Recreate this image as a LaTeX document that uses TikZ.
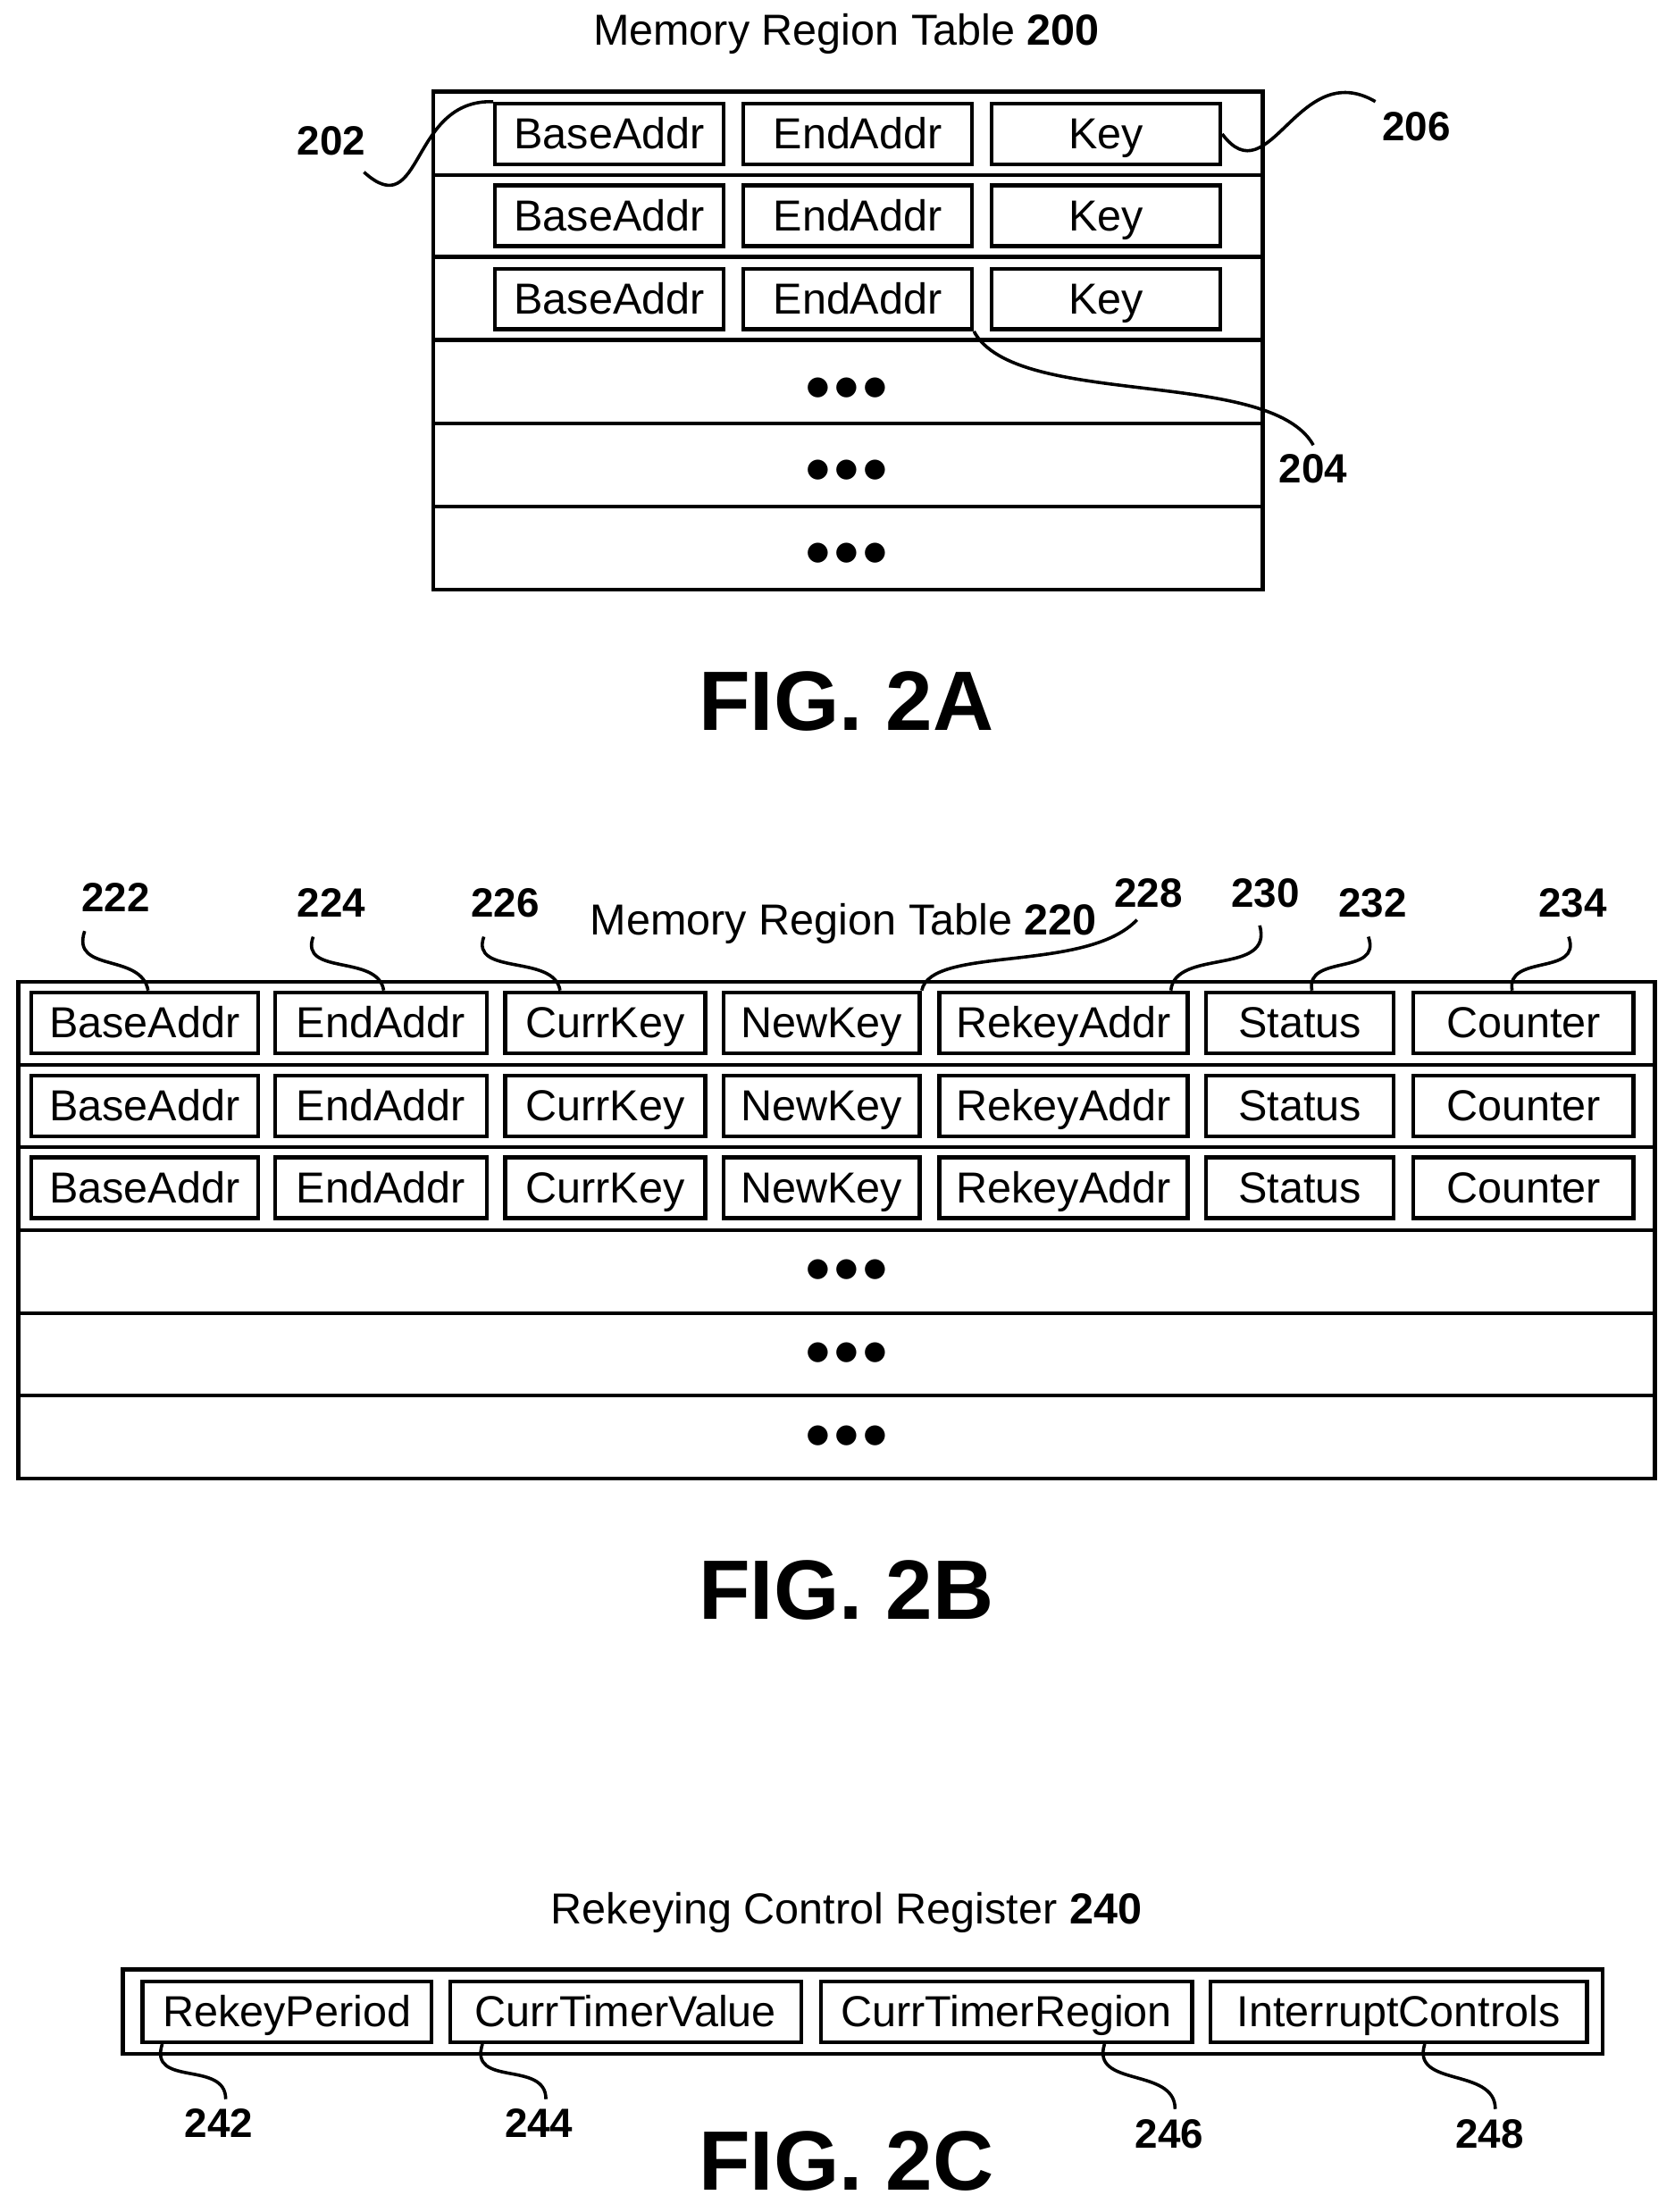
\documentclass[tikz,border=0pt]{standalone}
\usepackage{fontspec}
\setmainfont{Liberation Sans}
\usetikzlibrary{positioning}
\tikzset{
  cell/.style={draw, line width=1.6pt, inner sep=0pt, minimum height=0.86cm, text height=13.5pt, text depth=1.5pt, font=\fontsize{17.5}{20}\selectfont},
  frame/.style={draw, line width=1.6pt},
  ref/.style={font=\fontsize{16.5}{18}\selectfont\bfseries},
  title/.style={font=\fontsize{17.5}{20}\selectfont},
  fig/.style={font=\fontsize{34}{40}\selectfont\bfseries},
  lead/.style={line width=1.3pt},
  dots/.style={font=\fontsize{22}{24}\selectfont}
}
\newcommand{\dotrow}{$\bullet\!\bullet\!\bullet$}
\begin{document}
\begin{tikzpicture}[x=0.02cm,y=-0.02cm]
\useasboundingbox (0,0) rectangle (1187,1568);
% ---------- FIG. 2A
\node[title] (t200) at (600,24) {Memory Region Table \textbf{200}};
\draw[frame] (307,65) rectangle (895,418);
\foreach \y in {124,182,241,300,359} \draw[frame] (307,\y) -- (895,\y);
\foreach \r/\y in {1/95,2/153,3/212} {
  \node[cell, minimum width=162*0.02cm] (a\r b) at (432,\y) {BaseAddr};
  \node[cell, minimum width=162*0.02cm] (a\r e) at (608,\y) {EndAddr};
  \node[cell, minimum width=162*0.02cm] (a\r k) at (784,\y) {Key};
}
\foreach \y in {276,334,393} \node[dots] at (600,\y) {\dotrow};
\node[ref] (l202) at (235,100) {202};
\node[ref] (l206) at (1004,90) {206};
\node[ref] (l204) at (931,332) {204};
\draw[lead] (258,122) .. controls (300,160) and (290,70) .. (a1b.north west);
\draw[lead] (a1k.east) .. controls (900,140) and (920,40) .. (975,72);
\draw[lead] (a3e.south east) .. controls (720,290) and (900,260) .. (l204.north);
\node[fig] (f2a) at (600,497) {FIG. 2A};
% ---------- FIG. 2B
\node[title] (t220) at (598,655) {Memory Region Table \textbf{220}};
\draw[frame] (13,696) rectangle (1173,1048);
\foreach \y in {755,813,872,931,989} \draw[frame] (13,\y) -- (1173,\y);
\foreach \r/\y in {1/725,2/784,3/842} {
  \foreach \c/\xa/\xb/\t in {1/22/183/BaseAddr, 2/195/345/EndAddr, 3/358/500/CurrKey,
      4/513/652/NewKey, 5/666/842/RekeyAddr, 6/855/988/Status, 7/1002/1158/Counter}
    \node[cell, minimum width={(\xb-\xa)*0.02cm}] (b\r c\c) at ({(\xa+\xb)/2},\y) {\t};
}
\foreach \y in {901,960,1019} \node[dots] at (600,\y) {\dotrow};
\foreach \c/\n/\lx/\ly/\tx in {1/222/82/636/105, 2/224/235/640/272, 3/226/358/640/397,
    5/230/897/633/830, 6/232/973/640/930, 7/234/1115/640/1072} {
  \node[ref] (l\n) at (\lx,\ly) {\n};
}
\draw[lead] (60,660) .. controls (50,690) and (100,675) .. (b1c1.north -| 105,0);
\draw[lead] (222,664) .. controls (212,692) and (268,676) .. (b1c2.north -| 272,0);
\draw[lead] (343,664) .. controls (333,692) and (393,676) .. (b1c3.north -| 397,0);
\node[ref] (l228) at (814,633) {228};
\draw[lead] (806,652) .. controls (770,690) and (660,670) .. (b1c4.north east);
\draw[lead] (893,656) .. controls (903,692) and (833,672) .. (b1c5.north -| 830,0);
\draw[lead] (970,664) .. controls (980,692) and (925,676) .. (b1c6.north -| 930,0);
\draw[lead] (1112,664) .. controls (1122,692) and (1067,676) .. (b1c7.north -| 1072,0);
\node[fig] (f2b) at (600,1127) {FIG. 2B};
% ---------- FIG. 2C
\node[title] (t240) at (600,1356) {Rekeying Control Register \textbf{240}};
\draw[frame] (87,1396) rectangle (1136,1456);
\foreach \c/\xa/\xb/\t in {1/101/306/RekeyPeriod, 2/319/568/CurrTimerValue,
    3/582/845/CurrTimerRegion, 4/858/1125/InterruptControls}
  \node[cell, minimum width={(\xb-\xa)*0.02cm}] (c\c) at ({(\xa+\xb)/2},1426) {\t};
\node[ref] (l242) at (155,1505) {242};
\node[ref] (l244) at (382,1505) {244};
\node[ref] (l246) at (829,1513) {246};
\node[ref] (l248) at (1056,1513) {248};
\draw[lead] (c1.south -| 115,0) .. controls (105,1480) and (160,1460) .. (160,1488);
\draw[lead] (c2.south -| 342,0) .. controls (332,1480) and (387,1460) .. (387,1488);
\draw[lead] (c3.south -| 783,0) .. controls (773,1480) and (833,1465) .. (833,1495);
\draw[lead] (c4.south -| 1010,0) .. controls (1000,1480) and (1060,1465) .. (1060,1495);
\node[fig] (f2c) at (600,1532) {FIG. 2C};
\end{tikzpicture}
\end{document}
